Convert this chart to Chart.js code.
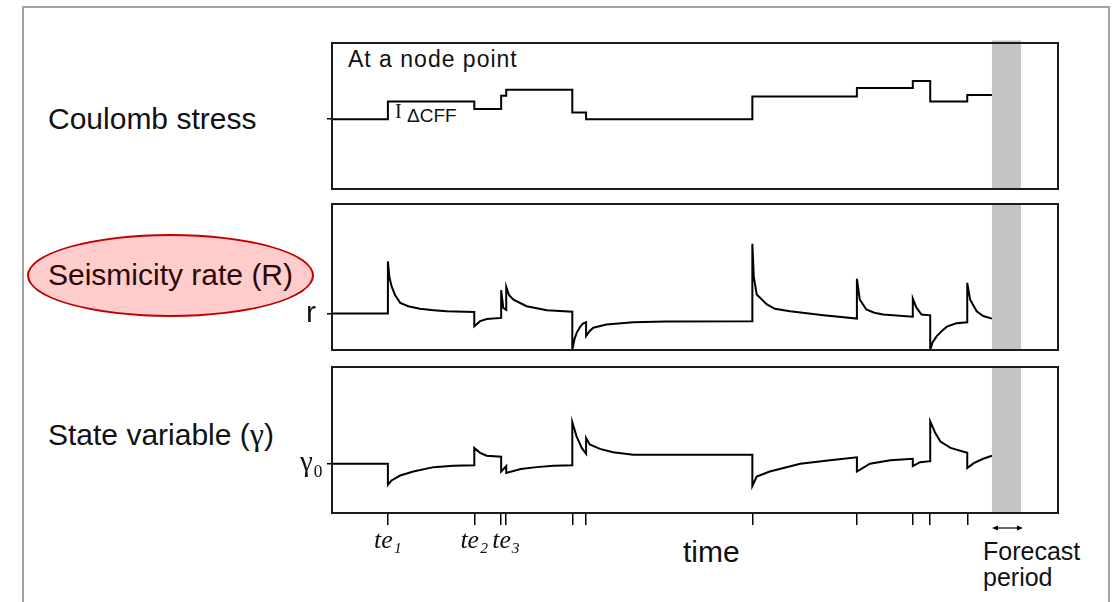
<!DOCTYPE html>
<html>
<head>
<meta charset="utf-8">
<script src="https://cdn.jsdelivr.net/npm/chart.js@4.4.1/dist/chart.umd.min.js"></script>
<style>
  body { margin: 0; background: #fff; }
  #wrap { position: relative; width: 1117px; height: 602px; overflow: hidden; background: #fff;
          font-family: 'Liberation Sans', Arial, sans-serif; color: #111; }
  #frame { position: absolute; left: 22px; top: 6px; width: 1088px; height: 640px;
           border: 2px solid #a3a3a3; box-sizing: border-box; }
  canvas { position: absolute; }
  .lbl { position: absolute; font-size: 30px; line-height: 30px; white-space: nowrap; }
  #ellipse { position: absolute; left: 27px; top: 234px; width: 287px; height: 83px;
             box-sizing: border-box; border: 2px solid #c00000; border-radius: 50%; background: #ffcccc; }
</style>
</head>
<body>
<div id="wrap">
  <div id="frame"></div>
  <div id="ellipse"></div>
  <div class="lbl" style="left:48px; top:104px;">Coulomb stress</div>
  <div class="lbl" style="left:48px; top:260px; color:#2c0808;">Seismicity rate (R)</div>
  <div class="lbl" style="left:48px; top:419px;">State variable (<span style="font-family:'Liberation Serif',serif; font-size:32px;">γ</span>)</div>
  <div class="lbl" style="left:348px; top:48px; font-size:23px; line-height:23px; letter-spacing:1px;">At a node point</div>
  <div class="lbl" style="left:395px; top:101px; font-size:20px; line-height:20px; font-family:'Liberation Serif',serif;">I</div>
  <div class="lbl" style="left:407px; top:106px; font-size:19px; line-height:19px;">ΔCFF</div>
  <div class="lbl" style="left:683px; top:537px;">time</div>
  <div class="lbl" style="left:983px; top:539px; font-size:25px; line-height:25.7px;">Forecast<br>period</div>

  <canvas id="stressChart" width="796" height="166" style="left:272px; top:33px;"></canvas>
  <canvas id="rateChart" width="796" height="166" style="left:272px; top:194px;"></canvas>
  <canvas id="stateChart" width="796" height="216" style="left:272px; top:357px;"></canvas>
</div>
<script>
// event times (arbitrary time units, panel spans 0..100)
const EVENT_TIMES = [7.7, 19.6, 23.3, 24.0, 33.1, 35.0, 57.9, 72.3, 80.0, 82.4, 87.5];
const EVENT_LABELS = ['te\u2081', 'te\u2082', '', 'te\u2083', '', '', '', '', '', '', ''];
const FORECAST_PERIOD = [90.9, 94.9];

// Coulomb stress change (stepped), value holds from the given time on
const stressTimes = [0, 7.7, 19.6, 23.3, 24.0, 33.1, 35.0, 57.9, 72.3, 80.0, 82.4, 87.5, 90.9];
const stressValues = [0, 0.70, 0.40, 0.93, 1.17, 0.26, 0, 0.90, 1.24, 1.52, 0.70, 0.96, 0.96];

// seismicity rate R / r
const rateTimes = [0, 7.7,
  7.7, 7.9, 8.2, 8.7, 9.4, 10.5, 12.1, 14.0, 15.8, 19.6,
  19.6, 20.4, 21.3, 23.3,
  23.3, 23.6, 24.0,
  24.0, 24.4, 25.0, 26.8, 29.6, 33.1,
  33.1, 33.4, 33.7, 34.2, 34.6, 35.0,
  35.0, 35.5, 36.0, 37.8, 41.5, 46.0, 57.9,
  57.9, 58.1, 58.5, 59.9, 61.0, 63.1, 67.7, 72.3,
  72.3, 72.7, 73.6, 74.7, 75.9, 80.0,
  80.0, 80.5, 81.2, 82.4,
  82.4, 82.7, 83.3, 84.0, 84.7, 86.0, 87.5,
  87.5, 87.9, 88.8, 89.7, 90.9];
const rateValues = [1, 1,
  2.43, 2.0, 1.75, 1.5, 1.29, 1.2, 1.13, 1.09, 1.06, 1.04,
  0.65, 0.79, 0.85, 0.88,
  1.64, 1.15, 1.1,
  1.73, 1.5, 1.38, 1.2, 1.09, 1.05,
  0.0, 0.3, 0.47, 0.64, 0.73, 0.76,
  0.38, 0.52, 0.61, 0.70, 0.76, 0.78, 0.79,
  2.91, 2.0, 1.52, 1.25, 1.13, 1.06, 0.95, 0.86,
  1.95, 1.38, 1.11, 1.02, 0.97, 0.91,
  1.41, 1.16, 0.97, 0.95,
  0.0, 0.2, 0.38, 0.52, 0.64, 0.73, 0.76,
  1.84, 1.38, 1.06, 0.93, 0.86];

// state variable gamma / gamma0
const stateTimes = [0, 7.7,
  7.7, 8.2, 9.4, 11.2, 14.0, 16.7, 19.6,
  19.6, 20.4, 21.3, 23.3,
  23.3, 24.0,
  24.0, 26.0, 28.2, 30.5, 33.1,
  33.1, 33.7, 34.4, 35.0,
  35.0, 35.5, 36.9, 38.7, 41.5, 57.9,
  57.9, 58.5, 60.3, 64.5, 68.6, 72.3,
  72.3, 74.1, 76.9, 80.0,
  80.0, 81.0, 82.4,
  82.4, 83.1, 83.8, 85.2, 87.5,
  87.5, 88.4, 89.7, 90.9];
const stateValues = [1, 1,
  0.57, 0.66, 0.76, 0.84, 0.93, 0.96, 0.97,
  1.32, 1.22, 1.16, 1.14,
  0.84, 0.95,
  0.81, 0.89, 0.93, 0.96, 0.97,
  1.84, 1.55, 1.32, 1.20,
  1.52, 1.39, 1.30, 1.23, 1.18, 1.18,
  0.55, 0.74, 0.84, 1.0, 1.07, 1.13,
  0.84, 1.0, 1.07, 1.10,
  0.95, 1.03, 1.05,
  1.86, 1.62, 1.45, 1.32, 1.22,
  0.91, 1.01, 1.10, 1.16];

function toPoints(xs, ys) {
  return xs.map((t, i) => ({ x: t, y: ys[i] }));
}

// grey forecast band behind the curve, black box around the panel
const panelFrame = {
  id: 'panelFrame',
  beforeDatasetsDraw(chart, args, opts) {
    const { ctx, chartArea: a, scales: { x } } = chart;
    const x0 = x.getPixelForValue(FORECAST_PERIOD[0]);
    const x1 = x.getPixelForValue(FORECAST_PERIOD[1]);
    const over = opts.overhang || 0;
    ctx.save();
    ctx.fillStyle = '#c4c4c4';
    ctx.fillRect(x0, a.top - over, x1 - x0, a.bottom - a.top + over);
    ctx.restore();
  },
  afterDatasetsDraw(chart) {
    const { ctx, chartArea: a } = chart;
    ctx.save();
    ctx.strokeStyle = '#1c1c1c';
    ctx.lineWidth = 2;
    ctx.strokeRect(a.left, a.top, a.right - a.left, a.bottom - a.top);
    ctx.restore();
  }
};

const forecastArrow = {
  id: 'forecastArrow',
  afterDraw(chart) {
    const { ctx, chartArea: a, scales: { x } } = chart;
    const x0 = x.getPixelForValue(FORECAST_PERIOD[0]);
    const x1 = x.getPixelForValue(FORECAST_PERIOD[1]) + 2;
    const y = a.bottom + 15;
    ctx.save();
    ctx.strokeStyle = '#000';
    ctx.fillStyle = '#000';
    ctx.lineWidth = 1.2;
    ctx.beginPath();
    ctx.moveTo(x0 + 3, y);
    ctx.lineTo(x1 - 3, y);
    ctx.stroke();
    ctx.beginPath();
    ctx.moveTo(x0, y); ctx.lineTo(x0 + 6, y - 2.5); ctx.lineTo(x0 + 6, y + 2.5); ctx.closePath();
    ctx.moveTo(x1, y); ctx.lineTo(x1 - 6, y - 2.5); ctx.lineTo(x1 - 6, y + 2.5); ctx.closePath();
    ctx.fill();
    ctx.restore();
  }
};

function noScalePadding(s) {
  s.paddingTop = 0;
  s.paddingBottom = 0;
  s.paddingLeft = 0;
  s.paddingRight = 0;
}

function makePanel(canvasId, points, opts) {
  const xScale = {
    type: 'linear', min: 0, max: 100,
    display: !!opts.showTime,
    border: { display: false },
    grid: { drawOnChartArea: false, drawTicks: true, tickLength: 12, color: '#000', lineWidth: 1.5 },
    ticks: {
      autoSkip: false, maxRotation: 0, padding: 1, color: '#111',
      font: { family: "'Liberation Serif', 'DejaVu Serif', serif", style: 'italic', size: 26 },
      callback: (v, i) => EVENT_LABELS[i]
    },
    afterBuildTicks: s => { s.ticks = EVENT_TIMES.map(v => ({ value: v })); },
    afterFit: s => {
      noScalePadding(s);
      if (opts.showTime) s.height = 60;
    }
  };
  const yScale = {
    type: 'linear', min: opts.yMin, max: opts.yMax,
    border: { display: false },
    grid: { drawOnChartArea: false, drawTicks: true, tickLength: 5, color: '#000', lineWidth: 1.5 },
    ticks: {
      padding: opts.labelPad, color: '#111',
      font: opts.labelFont,
      callback: () => opts.refLabel
    },
    afterBuildTicks: s => { s.ticks = [{ value: opts.refLevel }]; },
    afterFit: s => {
      noScalePadding(s);
      s.width = 60;
    }
  };
  return new Chart(document.getElementById(canvasId), {
    type: 'line',
    data: {
      datasets: [{
        data: points,
        borderColor: '#000',
        borderWidth: 2,
        pointRadius: 0,
        fill: false,
        tension: 0,
        stepped: !!opts.stepped
      }]
    },
    options: {
      responsive: false,
      animation: false,
      events: [],
      layout: { padding: { left: 0, right: 10, top: 10, bottom: opts.showTime ? 0 : 10 } },
      plugins: {
        legend: { display: false },
        tooltip: { enabled: false },
        panelFrame: { overhang: opts.overhang || 0 }
      },
      scales: { x: xScale, y: yScale }
    },
    plugins: opts.showTime ? [panelFrame, forecastArrow] : [panelFrame]
  });
}

makePanel('stressChart', toPoints(stressTimes, stressValues), {
  yMin: -2.79, yMax: 3.04, refLevel: 0, refLabel: '', labelPad: 4,
  labelFont: { size: 20 }, stepped: true, overhang: 2.5
});
makePanel('rateChart', toPoints(rateTimes, rateValues), {
  yMin: 0, yMax: 4, refLevel: 1, refLabel: 'r', labelPad: 11,
  labelFont: { family: "'Liberation Sans', Arial, sans-serif", size: 30 }
});
makePanel('stateChart', toPoints(stateTimes, stateValues), {
  yMin: 0, yMax: 2.96, refLevel: 1, refLabel: '\u03b3\u2080', labelPad: 4,
  labelFont: { family: "'Liberation Serif', 'DejaVu Serif', serif", size: 29 },
  showTime: true
});
</script>
</body>
</html>
